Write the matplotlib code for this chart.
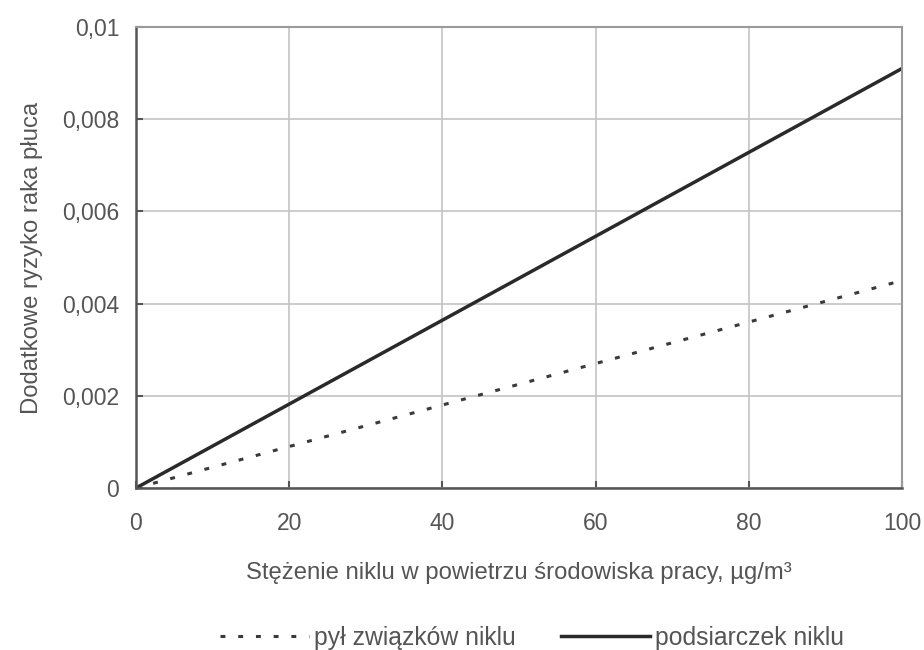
import matplotlib
matplotlib.use("Agg")
import matplotlib.pyplot as plt
from matplotlib.ticker import FixedLocator, FixedFormatter

plt.rcParams['font.family'] = ['Liberation Sans', 'DejaVu Sans']

conc = [0, 100]
pyl = [0, 0.0045]
podsiarczek = [0, 0.0091]
xticks = [0, 20, 40, 60, 80, 100]
yticks = [0, 0.002, 0.004, 0.006, 0.008, 0.01]
yticklabels = ['0', '0,002', '0,004', '0,006', '0,008', '0,01']

fig = plt.figure(figsize=(9.24, 6.5), dpi=100)
ax = fig.add_axes([136/924, 1-488/650, (902-136)/924, (488-27)/650])

l1, = ax.plot(conc, pyl, color='#3a3a3a', lw=2.2, linestyle=(0, (1.6, 4.2)), solid_capstyle='butt')
l2, = ax.plot(conc, podsiarczek, color='#2a2a2a', lw=2.5)

ax.set_xlim(0, 100)
ax.set_ylim(0, 0.01)
ax.xaxis.set_major_locator(FixedLocator(xticks))
ax.yaxis.set_major_locator(FixedLocator(yticks))
ax.yaxis.set_major_formatter(FixedFormatter(yticklabels))
ax.grid(True, color='#c4c4c4', lw=1.2)
ax.set_axisbelow(True)
for s in ['top', 'right']:
    ax.spines[s].set_color('#9a9a9a')
    ax.spines[s].set_linewidth(1.5)
for s in ['left', 'bottom']:
    ax.spines[s].set_color('#555555')
    ax.spines[s].set_linewidth(1.8)
ax.tick_params(direction='in', length=5, width=1.5, color='#555555', labelsize=16.5, labelcolor='#555555')
ax.tick_params(axis='x', pad=17)
ax.tick_params(axis='y', pad=12)

ax.set_xlabel('Stężenie niklu w powietrzu środowiska pracy, µg/m³', fontsize=17.2, color='#555555', labelpad=20)
ax.set_ylabel('Dodatkowe ryzyko raka płuca', fontsize=17.2, color='#555555', labelpad=14)

fig.legend([l1, l2], ['pył związków niklu', 'podsiarczek niklu'], loc='center', bbox_to_anchor=(532/924, 1-638/650),
           ncol=2, frameon=False, fontsize=17.8, handlelength=3.6, handletextpad=0.2, columnspacing=1.8,
           labelcolor='#555555')

fig.savefig('out.png', dpi=100)
